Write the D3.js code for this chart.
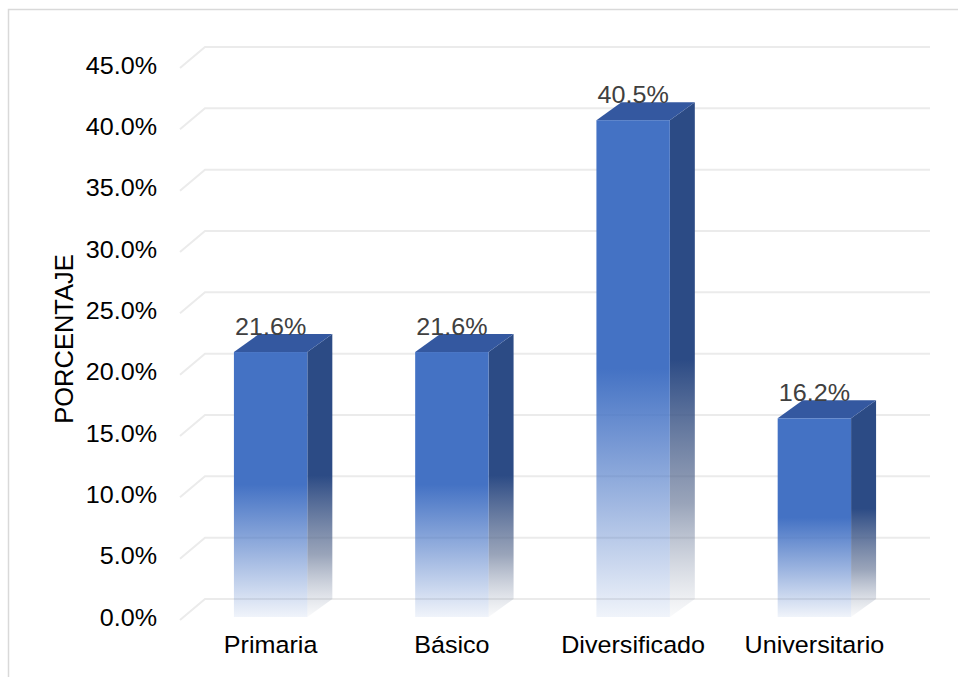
<!DOCTYPE html>
<html>
<head>
<meta charset="utf-8">
<script src="https://cdn.jsdelivr.net/npm/d3@7"></script>
<style>
  html, body { margin: 0; padding: 0; background: #fff; }
  svg { display: block; font-family: "Liberation Sans", Arial, sans-serif; }
</style>
</head>
<body>
<svg id="chart" width="958" height="677"></svg>
<script>
// Nivel educativo: porcentaje por categoría
const categories = ["Primaria", "Básico", "Diversificado", "Universitario"];
const values = [21.6, 21.6, 40.5, 16.2];
const tickValues = [0, 5, 10, 15, 20, 25, 30, 35, 40, 45];
const axisTitle = "PORCENTAJE";

const W = 958, H = 677;
const svg = d3.select("#chart");

// back wall of the 3D plot
const wall = { left: 205, right: 930, top: 47, bottom: 599 };
// offset from back wall to the front floor edge, and bar depth
const gridDx = -25, gridDy = 21;
const barDx = -25, barDy = 18;

// labels are set slightly wide
const FS = 23.5, SX = 1.07;
const at = (px, py) => `translate(${px},${py}) scale(${SX},1)`;

const x = d3.scaleBand()
  .domain(categories)
  .range([wall.left, wall.right])
  .paddingInner(0.595)
  .paddingOuter(0.2975);

const y = d3.scaleLinear()
  .domain([0, 45])
  .range([wall.bottom, wall.top]);

const fmt = d => d.toFixed(1) + "%";

// chart frame
svg.append("path")
  .attr("d", `M8.5,${H} L8.5,9.5 L${W},9.5`)
  .attr("fill", "none")
  .attr("stroke", "#d9d9d9")
  .attr("stroke-width", 1.5);

// gradients
const defs = svg.append("defs");
const gFront = defs.append("linearGradient")
  .attr("id", "gradFront").attr("x1", 0).attr("y1", 0).attr("x2", 0).attr("y2", 1);
[[0, 1], [0.5, 1], [0.75, 0.55], [1, 0.08]].forEach(([o, a]) =>
  gFront.append("stop").attr("offset", o).attr("stop-color", "#4472c4").attr("stop-opacity", a));

const gSide = defs.append("linearGradient")
  .attr("id", "gradSide").attr("x1", 0).attr("y1", 0).attr("x2", 0).attr("y2", 1);
[[0, "#2c4b85", 1], [0.5, "#2c4b85", 1], [0.78, "#56688c", 0.6], [1, "#8a96ac", 0.05]].forEach(([o, c, a]) =>
  gSide.append("stop").attr("offset", o).attr("stop-color", c).attr("stop-opacity", a));

// gridlines: back wall line plus floor diagonal on the left
const grid = svg.append("g").attr("class", "grid")
  .attr("fill", "none")
  .attr("stroke", "#ebebeb")
  .attr("stroke-width", 2);
grid.selectAll("path")
  .data(tickValues)
  .join("path")
  .attr("d", d => `M${wall.left + gridDx},${y(d) + gridDy} L${wall.left},${y(d)} L${wall.right},${y(d)}`);

// y axis tick labels
svg.append("g").attr("class", "y-ticks")
  .selectAll("text")
  .data(tickValues)
  .join("text")
  .attr("transform", d => at(157, y(d) + 18.5))
  .attr("text-anchor", "end")
  .attr("dominant-baseline", "central")
  .attr("font-size", FS)
  .attr("fill", "#000")
  .text(fmt);

// axis title
svg.append("text")
  .attr("transform", `translate(73,339) rotate(-90)`)
  .attr("text-anchor", "middle")
  .attr("font-size", 25.5)
  .attr("fill", "#000")
  .text(axisTitle);

// bars
const data = categories.map((c, i) => ({ c, v: values[i] }));
const bars = svg.append("g").attr("class", "bars")
  .selectAll("g")
  .data(data)
  .join("g");

bars.each(function (d) {
  const g = d3.select(this);
  const bw = x.bandwidth();
  const bx = x(d.c);               // back-left x
  const top = y(d.v), base = y(0); // back y
  const fx = bx + barDx;           // front-left x
  const ft = top + barDy, fb = base + barDy;

  // right side face
  g.append("path")
    .attr("d", `M${fx + bw},${ft} L${bx + bw},${top} L${bx + bw},${base} L${fx + bw},${fb} Z`)
    .attr("fill", "url(#gradSide)");
  // top face
  g.append("path")
    .attr("d", `M${fx},${ft} L${bx},${top} L${bx + bw},${top} L${fx + bw},${ft} Z`)
    .attr("fill", "#3458a0");
  // front face
  g.append("rect")
    .attr("x", fx).attr("y", ft)
    .attr("width", bw).attr("height", fb - ft)
    .attr("fill", "url(#gradFront)");
});

// value labels
svg.append("g").attr("class", "values")
  .selectAll("text")
  .data(data)
  .join("text")
  .attr("transform", d => at(x(d.c) + x.bandwidth() / 2 + barDx, y(d.v) + 1))
  .attr("text-anchor", "middle")
  .attr("font-size", FS)
  .attr("fill", "#404040")
  .text(d => fmt(d.v));

// category labels
svg.append("g").attr("class", "x-ticks")
  .selectAll("text")
  .data(categories)
  .join("text")
  .attr("transform", d => at(x(d) + x.bandwidth() / 2 + barDx, 653))
  .attr("text-anchor", "middle")
  .attr("font-size", FS)
  .attr("fill", "#000")
  .text(d => d);
</script>
</body>
</html>
